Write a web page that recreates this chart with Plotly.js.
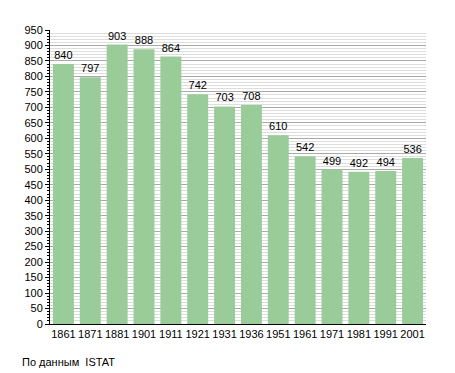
<!DOCTYPE html>
<html><head><meta charset="utf-8">
<script src="https://cdn.plot.ly/plotly-3.0.1.min.js"></script>
<style>html,body{margin:0;padding:0;background:#fff}</style>
</head><body>
<div id="chart" style="width:455px;height:373px"></div>
<script>
const years = ["1861","1871","1881","1901","1911","1921","1931","1936","1951","1961","1971","1981","1991","2001"];
const population = [840,797,903,888,864,742,703,708,610,542,499,492,494,536];
const sourceNote = "По данным  ISTAT";

Plotly.newPlot("chart", [{
  type: "bar",
  x: years,
  y: population,
  text: population.map(String),
  textposition: "outside",
  constraintext: "none",
  cliponaxis: false,
  textfont: {family: "Liberation Sans, Arial, sans-serif", size: 11, color: "#000"},
  marker: {color: "#99cc99", line: {width: 0}},
  hoverinfo: "none"
}], {
  width: 455, height: 373,
  margin: {l: 50, r: 29, t: 30, b: 49},
  paper_bgcolor: "#fff", plot_bgcolor: "#fff",
  bargap: 0.22,
  showlegend: false,
  font: {family: "Liberation Sans, Arial, sans-serif", size: 11, color: "#000"},
  xaxis: {
    type: "category",
    showline: true, linecolor: "#000", linewidth: 1,
    ticks: "", showgrid: false, tickfont: {size: 11}
  },
  yaxis: {
    range: [0, 950], dtick: 50, tick0: 0,
    showline: true, linecolor: "#000", linewidth: 1,
    ticks: "outside", ticklen: 4, tickcolor: "#000",
    gridcolor: "#aaaaaa", gridwidth: 1,
    zeroline: false, tickfont: {size: 11},
    minor: {dtick: 10, showgrid: true, gridcolor: "#dddddd", gridwidth: 1, ticks: "outside", ticklen: 2, tickcolor: "#000"}
  },
  annotations: [{
    xref: "paper", yref: "paper", x: -30/376, y: -38/294,
    xanchor: "left", yanchor: "middle", showarrow: false,
    text: sourceNote, font: {size: 11, color: "#000"}
  }]
}, {staticPlot: true});
</script>
</body></html>
